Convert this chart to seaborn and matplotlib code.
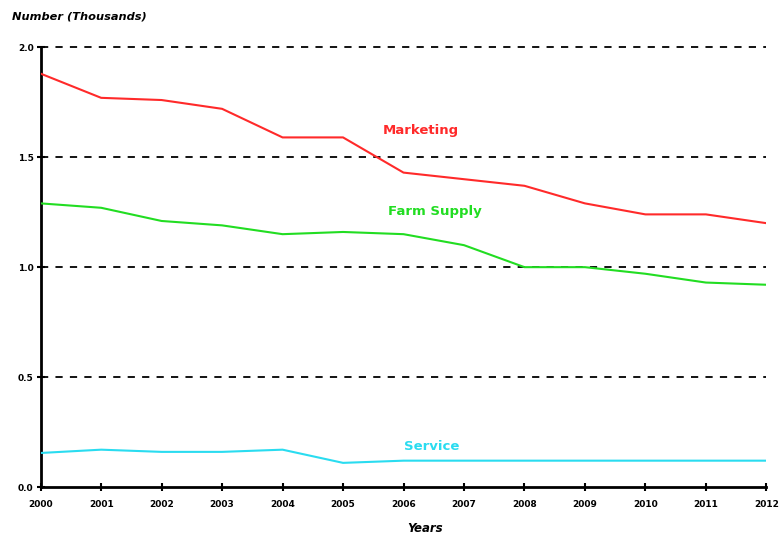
import pandas as pd
import matplotlib.pyplot as plt
import seaborn as sns

sns.set_style("white")
plt.rcParams['text.color'] = 'black'
plt.rcParams['xtick.color'] = 'black'
plt.rcParams['ytick.color'] = 'black'
plt.rcParams['axes.labelcolor'] = 'black'

years = list(range(2000, 2013))
marketing = [1.88, 1.77, 1.76, 1.72, 1.59, 1.59, 1.43, 1.40, 1.37, 1.29, 1.24, 1.24, 1.20]
farm_supply = [1.29, 1.27, 1.21, 1.19, 1.15, 1.16, 1.15, 1.10, 1.00, 1.00, 0.97, 0.93, 0.92]
service = [0.155, 0.17, 0.16, 0.16, 0.17, 0.11, 0.12, 0.12, 0.12, 0.12, 0.12, 0.12, 0.12]

series = {'Marketing': marketing, 'Farm Supply': farm_supply, 'Service': service}
colors = {'Marketing': '#ff2a2a', 'Farm Supply': '#22dd22', 'Service': '#2adcf0'}
label_pos = {'Marketing': (2006.29, 1.62), 'Farm Supply': (2006.52, 1.255), 'Service': (2006.46, 0.186)}

df = pd.DataFrame([{'Year': y, 'Type': k, 'Value': v}
                   for k, vals in series.items() for y, v in zip(years, vals)])

fig = plt.figure(figsize=(7.82, 5.37), dpi=100)
ax = fig.add_axes([0.052, 0.093, 0.928, 0.819])

for yv in [0.5, 1.0, 1.5, 2.0]:
  ax.axhline(yv, color='black', linestyle=(0, (4, 4)), linewidth=1.3, zorder=1, clip_on=False)

sns.lineplot(data=df, x='Year', y='Value', hue='Type', palette=colors,
             linewidth=1.5, legend=False, ax=ax, zorder=3)

for name, (x, y) in label_pos.items():
  ax.text(x, y, name, color=colors[name], fontsize=9.5, fontweight='bold',
          ha='center', va='center')

ax.set_xlim(2000, 2012)
ax.set_ylim(0, 2.0)
ax.set_xticks(years)
ax.set_xticklabels([str(y) for y in years], fontsize=6.5, fontweight='bold')
ax.set_yticks([0.0, 0.5, 1.0, 1.5, 2.0])
ax.set_yticklabels(['0.0', '0.5', '1.0', '1.5', '2.0'], fontsize=6.5, fontweight='bold')
ax.tick_params(axis='both', direction='inout', length=6, width=1.5, color='black',
               labelcolor='black', bottom=True, left=True)
ax.tick_params(axis='x', pad=6)
ax.tick_params(axis='y', pad=2)

for s in ['top', 'right']:
  ax.spines[s].set_visible(False)
for s in ['left', 'bottom']:
  ax.spines[s].set_color('black')
  ax.spines[s].set_linewidth(2)

ax.set_xlabel('Years', fontsize=8.5, fontweight='bold', style='italic', color='black')
ax.xaxis.set_label_coords(0.53, -0.08)
ax.set_ylabel('')
fig.text(0.015, 0.97, 'Number (Thousands)', fontsize=8.2, fontweight='bold',
         style='italic', ha='left', va='center', color='black')

plt.savefig('out.png', dpi=100)
